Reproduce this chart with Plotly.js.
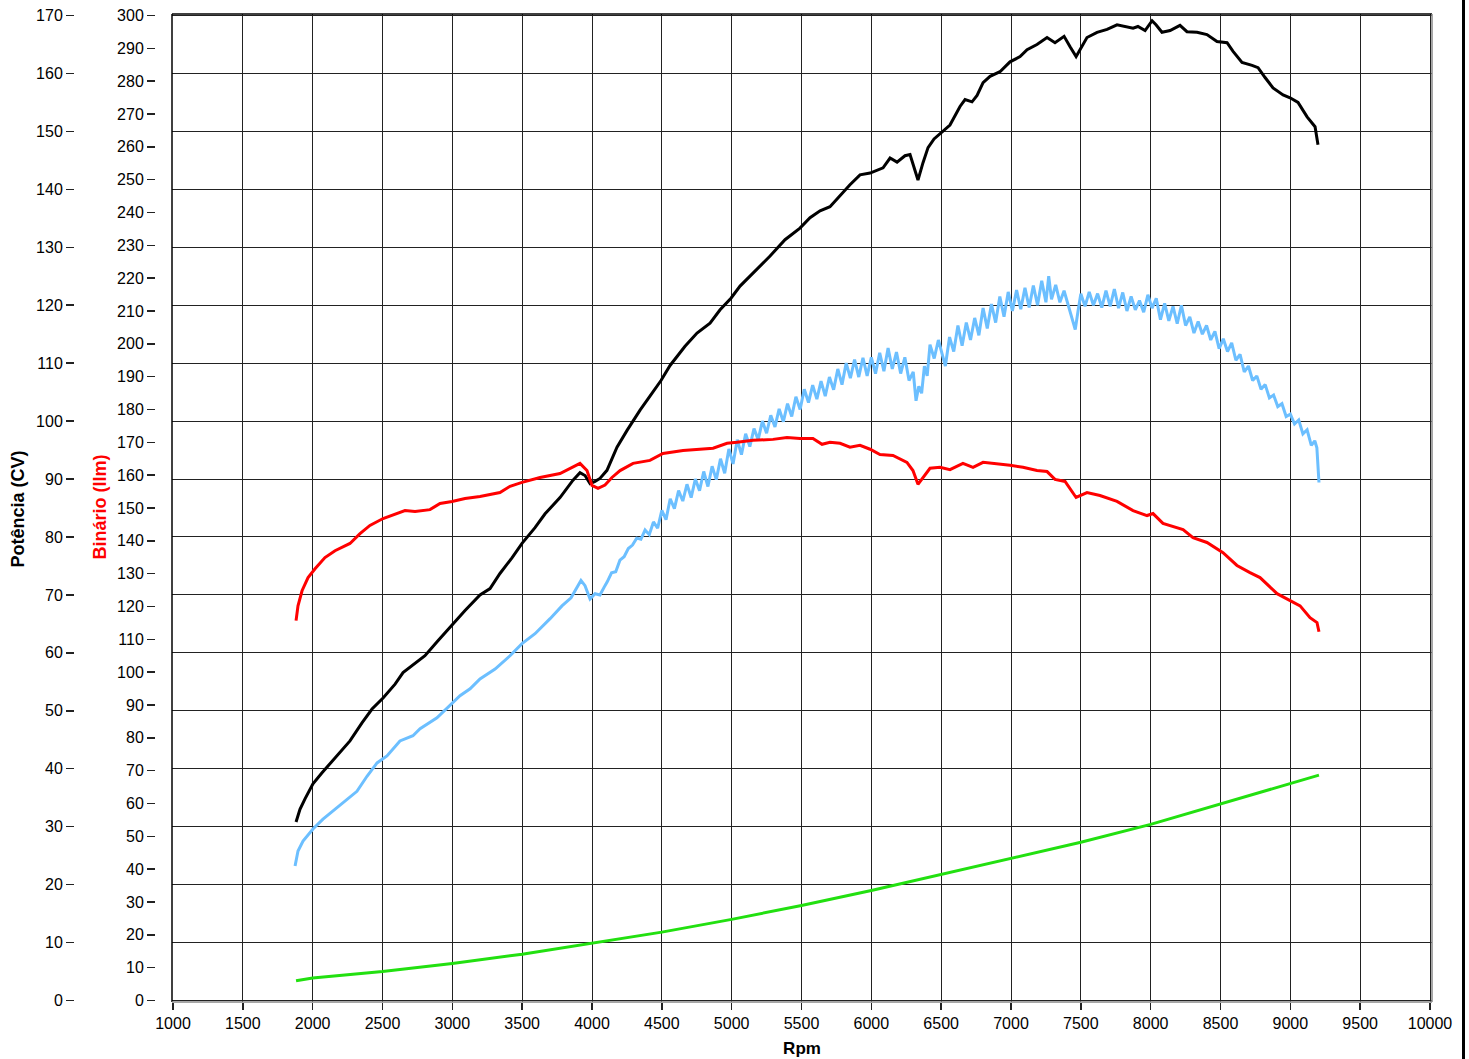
<!DOCTYPE html>
<html><head><meta charset="utf-8">
<script src="https://cdn.plot.ly/plotly-3.0.1.min.js"></script>
<style>
html,body{margin:0;padding:0;background:#fff;overflow:hidden}
#chart{width:1469px;height:1059px;position:absolute;left:0;top:0}
#edge{position:absolute;left:1462px;top:0;width:2.5px;height:1059px;background:#000}
</style></head><body><div id="chart"></div><div id="edge"></div>
<script>
// Potência (CV) - black curve
const rpmPower = [1881,1909,1945,2002,2067,2160,2267,2353,2425,2504,2590,2647,2718,2804,2897,2998,3091,3198,3270,3341,3427,3499,3592,3664,3771,3864,3914,3950,3986,4022,4057,4107,4179,4251,4294,4344,4415,4494,4559,4666,4752,4845,4917,4995,5060,5131,5203,5275,5382,5489,5561,5633,5704,5776,5847,5919,5991,6084,6134,6184,6241,6277,6298,6334,6370,6406,6449,6492,6563,6635,6671,6721,6757,6800,6850,6921,6993,7065,7115,7186,7258,7315,7380,7423,7466,7494,7544,7616,7688,7759,7831,7874,7909,7960,8010,8038,8081,8139,8210,8260,8332,8403,8475,8547,8590,8654,8726,8769,8819,8876,8948,8998,9055,9120,9177,9198];
const power = [30.8,33.0,34.8,37.4,39.3,41.9,44.8,47.9,50.3,52.2,54.6,56.6,57.9,59.5,62.1,64.9,67.3,70.0,71.1,73.7,76.4,78.9,81.6,84.0,86.8,89.8,91.1,90.6,89.2,89.6,90.1,91.5,95.5,98.4,100.1,101.9,104.3,107.0,109.6,112.9,115.2,116.9,119.2,121.2,123.3,125.0,126.9,128.5,131.3,133.3,135.1,136.3,137.0,139.0,140.8,142.5,142.8,143.7,145.4,144.7,145.8,146.0,144.5,141.6,144.6,147.2,148.7,149.6,151.1,154.3,155.5,155.1,156.2,158.4,159.5,160.3,162.0,162.9,164.1,165.0,166.2,165.3,166.4,164.6,162.9,164.1,166.2,167.1,167.6,168.4,168.1,167.8,168.1,167.4,169.1,168.4,167.1,167.4,168.3,167.2,167.1,166.7,165.5,165.3,163.8,161.9,161.4,161.0,159.3,157.5,156.3,155.8,155.0,152.5,150.8,147.7];

// Binário - red curve
const rpmTorque = [1881,1895,1924,1967,2017,2088,2160,2267,2339,2410,2504,2590,2661,2733,2840,2912,2998,3091,3198,3341,3413,3499,3628,3771,3864,3914,3964,4000,4043,4093,4143,4201,4294,4415,4508,4652,4867,4967,5038,5153,5296,5396,5489,5582,5647,5704,5776,5847,5919,5991,6062,6155,6255,6298,6334,6370,6420,6492,6563,6656,6728,6800,6871,6993,7086,7186,7258,7315,7387,7423,7466,7544,7637,7759,7874,7974,8017,8088,8188,8232,8303,8403,8518,8618,8711,8783,8905,8998,9070,9141,9191,9205];
const torque = [115.7,120.2,124.8,128.8,131.5,134.9,137.0,139.2,142.2,144.7,146.8,148.0,149.2,148.9,149.5,151.4,152.0,152.9,153.5,154.7,156.6,157.8,159.3,160.5,162.4,163.6,161.4,156.9,156.0,157.0,159.3,161.4,163.6,164.5,166.6,167.5,168.2,169.7,170.0,170.6,170.9,171.5,171.2,171.2,169.4,170.0,169.7,168.5,169.1,167.9,166.3,166.0,163.9,161.4,157.2,159.3,162.1,162.4,161.7,163.6,162.4,163.9,163.6,163.0,162.4,161.4,161.1,158.7,158.1,156.0,153.2,154.7,153.8,152.0,149.2,147.7,148.3,145.3,144.0,143.4,141.0,139.5,136.4,132.5,130.3,128.8,123.9,121.8,120.2,116.6,115.1,112.3];

// Potência na roda (CV) - light blue curve
const rpmWheel = [1874,1895,1931,2002,2074,2146,2217,2317,2389,2461,2532,2625,2718,2769,2890,2962,3055,3127,3198,3306,3413,3499,3592,3700,3785,3850,3878,3921,3950,3986,4022,4057,4093,
4110,4140,4170,4200,4230,4260,4290,4320,4350,4380,4410,4440,4470,4500,4530,4560,4590,4620,4650,4680,4710,4740,4770,4800,4830,4860,4890,4920,4950,4980,5010,5040,5070,5100,5130,5160,5190,5220,5250,5280,5310,5340,5370,5400,5430,5460,5490,5520,5550,5580,5610,5640,5670,5700,5730,5760,5790,5820,5850,5880,5910,5940,5970,6000,6030,6060,6090,6120,6150,6180,6210,6240,6270,6300,6320,6340,6360,6380,6400,6420,6450,6480,6510,6530,6560,6590,6620,6650,6680,6710,6740,6770,6800,6830,6860,6890,6920,6950,6980,7010,7040,7070,7100,7130,7160,7190,7220,7250,7270,7290,7320,7350,7380,7410,7440,7460,7480,7500,7530,7560,7590,7620,7650,7680,7710,7740,7770,7800,7830,7860,7890,7920,7950,7980,8010,8040,8070,8100,8130,8160,8190,8220,8250,8280,8310,8340,8370,8400,8430,8460,8490,8520,8550,8580,8610,8640,8670,8700,8730,8760,8790,8820,8850,8880,8910,8940,8970,9000,9030,9060,9090,9120,9150,9175,9190,9205];
const wheel = [23.2,25.8,27.5,29.6,31.3,32.7,34.1,36.1,38.7,41.0,42.2,44.8,45.7,46.9,48.8,50.5,52.6,53.8,55.5,57.2,59.5,61.6,63.3,65.9,68.1,69.5,70.6,72.5,71.6,69.3,70.2,70.0,71.6,
72.3,73.8,74.0,76.0,76.6,78.0,78.6,79.8,79.6,81.2,80.4,82.6,81.5,84.6,83.0,86.6,84.9,88.0,86.2,89.1,86.8,90.0,88.0,91.3,88.7,92.2,89.9,93.5,91.0,95.2,92.6,96.8,94.2,97.8,95.6,98.7,96.8,100.0,97.9,101.0,99.0,102.1,99.9,103.0,100.8,104.2,102.0,105.5,103.2,106.2,103.8,106.9,104.3,107.6,105.4,109.0,106.3,110.0,107.4,110.6,107.6,110.9,107.8,111.0,108.2,111.8,108.6,112.6,109.0,111.9,108.2,111.0,107.0,108.5,103.5,106.0,104.8,109.5,107.8,113.2,110.8,114.0,111.5,109.5,114.5,112.0,116.5,113.0,117.0,114.0,117.8,114.8,119.5,116.0,120.2,117.0,121.5,118.0,122.3,119.0,122.6,119.3,123.0,119.6,123.4,120.0,124.2,120.5,125.0,121.0,123.5,120.5,122.5,120.0,117.5,115.8,119.0,122.0,119.8,122.3,120.0,122.0,119.6,122.5,119.8,122.8,119.5,122.2,119.0,121.5,119.2,120.8,118.8,121.8,119.5,121.2,117.5,120.3,117.3,119.8,116.8,120.0,116.5,118.0,115.2,117.2,115.0,116.5,114.0,115.5,112.5,114.2,112.0,113.5,110.5,111.5,108.5,109.5,107.0,107.8,105.5,106.3,104.0,104.5,102.5,103.0,100.8,101.2,99.5,100.2,97.8,98.5,95.8,96.6,95.4,89.4];

// Perdas (CV) - green curve
const rpmLoss = [1881,2000,2500,3000,3500,4000,4500,5000,5500,6000,6500,7000,7500,8000,8500,9000,9205];
const loss = [3.4,3.9,5.0,6.4,8.0,9.9,11.8,14.0,16.4,19.0,21.8,24.6,27.3,30.4,33.9,37.4,38.9];

const xTitle = 'Rpm';
const y1Title = 'Potência (CV)';
const y2Title = 'Binário (llm)';

const FONT = 'Liberation Sans, Arial, Helvetica, sans-serif';
const traces = [
  {x: rpmLoss, y: loss, yaxis: 'y', mode: 'lines', line: {color: '#22e010', width: 3}},
  {x: rpmWheel, y: wheel, yaxis: 'y', mode: 'lines', line: {color: '#6cbfff', width: 3}},
  {x: rpmTorque, y: torque, yaxis: 'y2', mode: 'lines', line: {color: '#ff0000', width: 3}},
  {x: rpmPower, y: power, yaxis: 'y', mode: 'lines', line: {color: '#000000', width: 3}}
];

const L = 74, R = 37, T = 14, B = 57, W = 1469, H = 1059;
const pw = W - L - R;
const x0frac = (172 - L) / pw;
const layout = {
  width: W, height: H,
  margin: {l: L, r: R, t: T, b: B, pad: 0},
  paper_bgcolor: '#fff', plot_bgcolor: '#fff',
  font: {family: FONT, size: 16, color: '#000'},
  showlegend: false,
  xaxis: {
    domain: [x0frac, 1], range: [992.84, 10014.3],
    tick0: 1000, dtick: 500, tickformat: 'd', ticks: 'outside', ticklen: 7, tickwidth: 1.5, tickcolor: '#222',
    showgrid: true, gridcolor: '#222', gridwidth: 1, zeroline: false, showline: false,
    tickfont: {size: 16, family: FONT},
    title: {text: '<b>' + xTitle + '</b>', font: {size: 17, family: FONT}, standoff: 10}
  },
  yaxis: {
    anchor: 'free', position: 0, side: 'left',
    range: [-0.259, 170.259], tick0: 0, dtick: 10,
    ticks: 'outside', ticklen: 8, tickwidth: 1.5, tickcolor: '#222',
    showgrid: true, gridcolor: '#222', gridwidth: 1, zeroline: false, showline: false,
    tickfont: {size: 16, family: FONT}
  },
  yaxis2: {
    anchor: 'free', overlaying: 'y', position: (155 - L) / pw, side: 'left',
    range: [-0.457, 300.457], tick0: 0, dtick: 10,
    ticks: 'outside', ticklen: 8, tickwidth: 1.5, tickcolor: '#222',
    showgrid: false, zeroline: false, showline: false,
    tickfont: {size: 16, family: FONT}
  },
  shapes: [
    {type: 'line', xref: 'paper', yref: 'paper', x0: x0frac, x1: 1, y0: 1, y1: 1, line: {color: '#000', width: 1.5}},
    {type: 'line', xref: 'paper', yref: 'paper', x0: x0frac, x1: x0frac, y0: 0, y1: 1, line: {color: '#000', width: 1.5}},
    {type: 'line', xref: 'paper', yref: 'paper', x0: 1, x1: 1, y0: 0, y1: 1, line: {color: '#888', width: 1.5}},
    {type: 'line', xref: 'paper', yref: 'paper', x0: x0frac, x1: 1, y0: 0, y1: 0, line: {color: '#888', width: 1.5}}
  ],
  annotations: [
    {text: '<b>' + y1Title + '</b>', xref: 'paper', yref: 'paper', x: (17.5 - L) / pw, y: (1002 - 509) / 988,
     textangle: -90, showarrow: false, xanchor: 'center', yanchor: 'middle', font: {size: 18, color: '#000', family: FONT}},
    {text: '<b>' + y2Title + '</b>', xref: 'paper', yref: 'paper', x: (99.5 - L) / pw, y: (1002 - 507) / 988,
     textangle: -90, showarrow: false, xanchor: 'center', yanchor: 'middle', font: {size: 18, color: '#ff0000', family: FONT}}
  ]
};
Plotly.newPlot('chart', traces, layout, {staticPlot: true, displayModeBar: false});
</script></body></html>
